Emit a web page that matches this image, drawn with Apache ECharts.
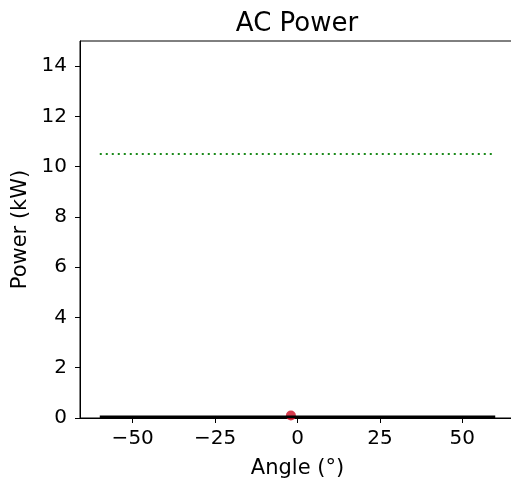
<!DOCTYPE html>
<html>
<head>
<meta charset="utf-8">
<script src="https://cdn.jsdelivr.net/npm/echarts@6/dist/echarts.min.js"></script>
<style>
html,body{margin:0;padding:0;background:#fff;}
#main{width:511px;height:482px;}
</style>
</head>
<body>
<div id="main"></div>
<script>
// data
var angles = [-60, 60];
var acPower = [0.05, 0.05];
var ratedPower = [10.5, 10.5];
var pointAngle = [-2];
var pointPower = [0.1];
var xTicks = [-50, -25, 0, 25, 50];
var yTicks = [0, 2, 4, 6, 8, 10, 12, 14];

function pairs(xs, ys) {
	var out = [];
	for (var i = 0; i < xs.length; i++) out.push([xs[i], ys[i]]);
	return out;
}
function minus(v) { return String(v).replace('-', '\u2212'); }

var font = 'DejaVu Sans';
var chart = echarts.init(document.getElementById('main'));
chart.setOption({
	animation: false,
	graphic: [{
		type: 'text', x: 297, y: 11,
		style: {text: 'AC Power', fontFamily: font, fontSize: 26, fill: '#000', textAlign: 'center', textVerticalAlign: 'top'}
	}],
	grid: {left: 80, top: 41, width: 435, height: 377, show: true, borderColor: '#000', borderWidth: 1,
		containLabel: false, outerBoundsMode: 'none'},
	xAxis: {
		type: 'value', min: -66, max: 66,
		name: 'Angle (°)', nameLocation: 'middle', nameGap: 40,
		nameTextStyle: {fontFamily: font, fontSize: 21, color: '#000'},
		axisLine: {onZero: false, lineStyle: {color: '#000', width: 1}},
		axisTick: {show: true, length: 5, customValues: xTicks, lineStyle: {color: '#000'}},
		axisLabel: {customValues: xTicks, fontFamily: font, fontSize: 20, color: '#000', margin: 11, formatter: minus},
		splitLine: {show: false}
	},
	yAxis: {
		type: 'value', min: 0, max: 15,
		name: 'Power (kW)', nameLocation: 'middle', nameGap: 48, nameRotate: 90,
		nameTextStyle: {fontFamily: font, fontSize: 21, color: '#000'},
		axisLine: {show: true, onZero: false, lineStyle: {color: '#000', width: 1}},
		axisTick: {show: true, length: 5, customValues: yTicks, lineStyle: {color: '#000'}},
		axisLabel: {customValues: yTicks, fontFamily: font, fontSize: 20, color: '#000', margin: 13},
		splitLine: {show: false}
	},
	series: [
		{
			type: 'scatter', data: pairs(pointAngle, pointPower), symbolSize: 10, z: 1,
			itemStyle: {color: '#cc0a20'}
		},
		{
			type: 'line', data: pairs(angles, acPower), showSymbol: false, z: 2,
			lineStyle: {color: '#000', width: 2.5}
		},
		{
			type: 'line', data: pairs(angles, ratedPower), showSymbol: false, z: 2,
			lineStyle: {color: '#1a8a1a', width: 2, type: [2, 4]}
		}
	]
});
</script>
</body>
</html>
